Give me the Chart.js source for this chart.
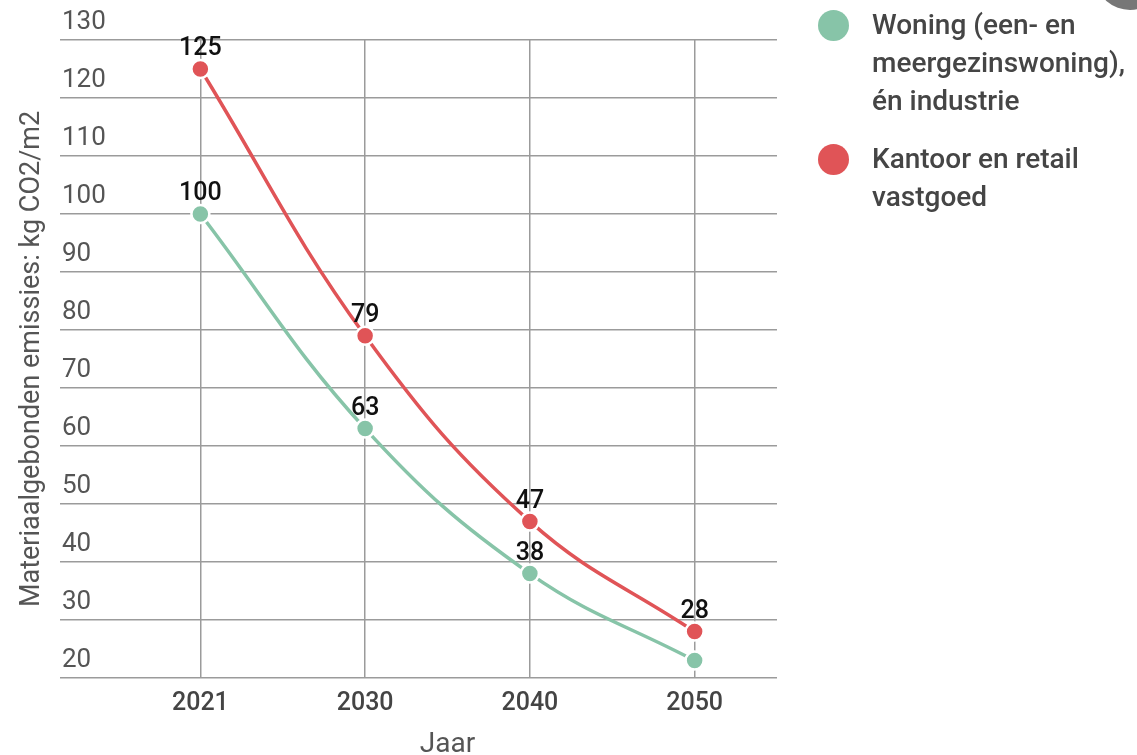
<!DOCTYPE html>
<html>
<head>
<meta charset="utf-8">
<script src="https://cdn.jsdelivr.net/npm/chart.js@4.4.1/dist/chart.umd.min.js"></script>
<style>
  html, body { margin: 0; padding: 0; background: #fff; }
  #wrap { position: relative; width: 1137px; height: 755px; overflow: hidden; }
  #legend { position: absolute; left: 818px; top: 6px; font-family: Roboto, sans-serif; font-size: 28px; font-weight: 500; color: #454545; }
  .item { position: relative; padding-left: 54px; line-height: 38px; margin-bottom: 20px; white-space: nowrap; }
  .dot { position: absolute; left: 0; top: 4px; width: 31px; height: 31px; border-radius: 50%; }
  #knob { position: absolute; left: 1098px; top: -46px; width: 64px; height: 56px; border-radius: 50%; background: #777; }
</style>
</head>
<body>
<div id="wrap">
  <canvas id="chart" width="1137" height="755"></canvas>
  <div id="legend"></div>
  <div id="knob"></div>
</div>
<script>
// Data
const jaren = ["2021", "2030", "2040", "2050"];
const woning = [100, 63, 38, 23];
const kantoor = [125, 79, 47, 28];
const woningNaam = ["Woning (een- en", "meergezinswoning),", "én industrie"];
const kantoorNaam = ["Kantoor en retail", "vastgoed"];
const yTicks = [20, 30, 40, 50, 60, 70, 80, 90, 100, 110, 120, 130];

const groen = "#87c4a8";
const rood = "#e05457";
const rasterKleur = "#9b9b9b";

// labels boven de punten; wordt overgeslagen als het op een punt van de andere lijn valt
const puntLabels = {
  id: "puntLabels",
  afterDatasetsDraw(chart) {
    const ctx = chart.ctx;
    ctx.save();
    ctx.font = "500 25px Roboto";
    ctx.fillStyle = "#111";
    ctx.textAlign = "center";
    ctx.textBaseline = "middle";
    chart.data.datasets.forEach((ds, di) => {
      const meta = chart.getDatasetMeta(di);
      meta.data.forEach((pt, i) => {
        const lx = pt.x, ly = pt.y - 20;
        let botst = false;
        chart.data.datasets.forEach((o, oi) => {
          if (oi === di) return;
          const op = chart.getDatasetMeta(oi).data[i];
          if (Math.abs(op.x - lx) < 16 && Math.abs(op.y - ly) < 18) botst = true;
        });
        if (!botst) ctx.fillText(String(ds.data[i]), lx, ly);
      });
    });
    ctx.restore();
  }
};

const ctx = document.getElementById("chart").getContext("2d");
const chart = new Chart(ctx, {
  type: "line",
  data: {
    labels: jaren,
    datasets: [
      {
        label: woningNaam,
        data: woning,
        borderColor: groen,
        backgroundColor: groen,
        borderWidth: 3.5,
        tension: 0.4,
        pointRadius: 9,
        pointBorderColor: "#fff",
        pointBorderWidth: 2.5,
        fill: false
      },
      {
        label: kantoorNaam,
        data: kantoor,
        borderColor: rood,
        backgroundColor: rood,
        borderWidth: 3.5,
        tension: 0.4,
        pointRadius: 9,
        pointBorderColor: "#fff",
        pointBorderWidth: 2.5,
        fill: false
      }
    ]
  },
  options: {
    responsive: false,
    animation: false,
    layout: { padding: { left: 16, right: 360, top: 40, bottom: 0 } },
    plugins: {
      legend: { display: false },
      tooltip: { enabled: false }
    },
    scales: {
      x: {
        offset: true,
        grid: { offset: false, color: rasterKleur, lineWidth: 1.5, drawTicks: false },
        border: { display: false },
        ticks: { color: "#444", font: { family: "Roboto", size: 25, weight: "500" }, padding: 11 },
        title: { display: true, text: "Jaar", color: "#555", font: { family: "Roboto", size: 28, lineHeight: 1 }, padding: { top: 0, bottom: -4 } },
        afterFit(scale) { scale.height = 77; }
      },
      y: {
        min: 20,
        max: 130,
        afterBuildTicks(scale) { scale.ticks = yTicks.map(v => ({ value: v })); },
        afterFit(scale) { scale.width = 102; },
        grid: { color: rasterKleur, lineWidth: 1.5, drawTicks: true, tickLength: 58 },
        border: { display: false },
        ticks: {
          mirror: true,
          padding: -56,
          labelOffset: -18,
          color: "#555",
          font: { family: "Roboto", size: 26 }
        },
        title: {
          display: true,
          text: "Materiaalgebonden emissies: kg CO2/m2",
          color: "#555",
          font: { family: "Roboto", size: 27 },
          padding: { top: 0, bottom: 0 }
        }
      }
    }
  },
  plugins: [puntLabels]
});

// legenda uit de datasets
const legend = document.getElementById("legend");
chart.data.datasets.forEach(ds => {
  const item = document.createElement("div");
  item.className = "item";
  const dot = document.createElement("span");
  dot.className = "dot";
  dot.style.background = ds.backgroundColor;
  item.appendChild(dot);
  item.insertAdjacentHTML("beforeend", ds.label.join("<br>"));
  legend.appendChild(item);
});
</script>
</body>
</html>
